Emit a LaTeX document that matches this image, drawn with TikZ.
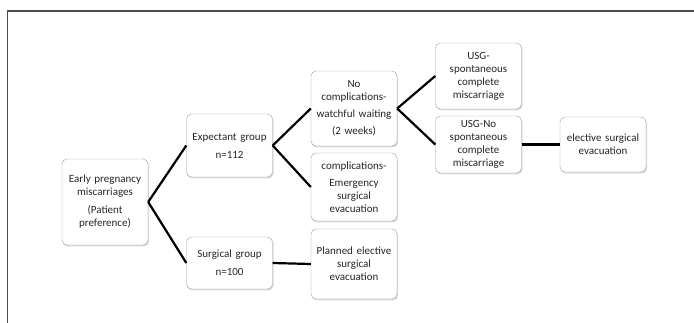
\documentclass[tikz,border=0pt]{standalone}
\usepackage{fontspec}
\setmainfont{Carlito}
\usetikzlibrary{shadows}
\tikzset{stagebox/.style={draw=gray!75, rounded corners=5pt, fill=white, align=center, text width=80pt, inner sep=3pt,
    text=black!85, font=\fontsize{11}{13}\selectfont, drop shadow={opacity=0.3, shadow xshift=1pt, shadow yshift=-1.5pt}},
  link/.style={line width=2.2pt, black}}

\begin{document}
\begin{tikzpicture}[x=1pt, y=-1pt]
\useasboundingbox (0,0) rectangle (694,323);
\draw[line width=1.5pt, black!70] (7.5,323) -- (7.5,11) -- (694,11); %frame
\node [stagebox, minimum height=86pt] (early) at (105,202) {Early pregnancy\\ miscarriages\\[5pt] (Patient\\ preference)};
\node [stagebox, minimum height=63pt] (expectant) at (229.5,145.5) {Expectant group\\[5pt] n=112};
\node [stagebox, minimum height=52pt] (surgical) at (229.5,263) {Surgical group\\[5pt] n=100};
\node [stagebox, minimum height=75pt] (nocomp) at (354,108.5) {No\\ complications-\\[4pt] watchful waiting\\[4pt] (2 weeks)};
\node [stagebox, minimum height=68pt] (comp) at (354,187) {complications-\\[4pt] Emergency\\ surgical\\ evacuation};
\node [stagebox, minimum height=70pt] (planned) at (354,264) {Planned elective\\ surgical\\ evacuation};
\node [stagebox, minimum height=66pt] (usgyes) at (478.5,76) {USG-\\ spontaneous\\ complete\\ miscarriage};
\node [stagebox, minimum height=57pt] (usgno) at (478.5,144.5) {USG-No\\ spontaneous\\ complete\\ miscarriage};
\node [stagebox, minimum height=55pt] (elective) at (603,144.5) {elective surgical\\ evacuation};
\draw [link] (early.east) -- (expectant.west);
\draw [link] (early.east) -- (surgical.west);
\draw [link] (expectant.east) -- (nocomp.west);
\draw [link] (expectant.east) -- (comp.west);
\draw [link] (surgical.east) -- (planned.west);
\draw [link] (nocomp.east) -- (usgyes.west);
\draw [link] (nocomp.east) -- (usgno.west);
\draw [link] (usgno.east) -- (elective.west);
\end{tikzpicture}
\end{document}
